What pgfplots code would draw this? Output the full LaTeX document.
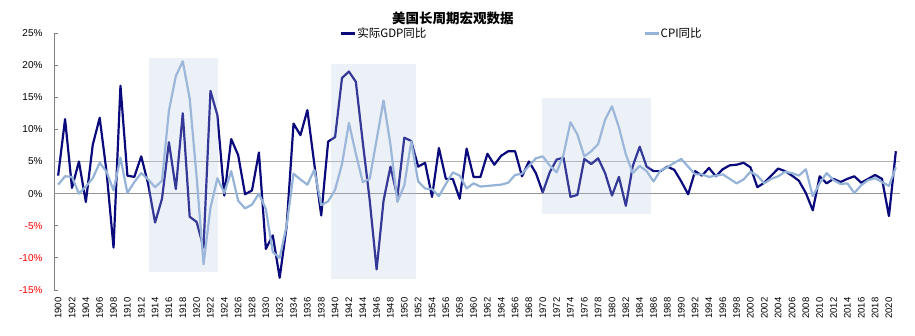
\documentclass[border=0pt]{standalone}
\usepackage{pgfplots}
\usepackage{pgfplotstable}
\pgfplotsset{compat=1.18}
\usepackage{fontspec}
\setmainfont{Liberation Sans}
\newfontfamily\cjk{Noto Sans CJK SC}
\definecolor{gdpc}{RGB}{10,10,125}
\definecolor{cpic}{RGB}{149,179,215}
\definecolor{shadec}{RGB}{180,195,225}
\pgfplotstableread{
year gdp cpi
1900 2.8 1.4
1901 11.6 2.7
1902 0.9 2.6
1903 5.0 0.0
1904 -1.3 1.1
1905 7.6 2.4
1906 11.8 4.8
1907 3.3 3.4
1908 -8.4 0.5
1909 16.8 5.6
1910 2.8 0.1
1911 2.6 1.8
1912 5.8 3.2
1913 1.5 2.2
1914 -4.5 1.0
1915 -0.8 2.0
1916 8.0 12.9
1917 0.7 18.3
1918 12.5 20.6
1919 -3.6 14.8
1920 -4.4 2.6
1921 -8.4 -11.0
1922 16.0 -2.2
1923 12.2 2.4
1924 -0.3 0.1
1925 8.5 3.5
1926 6.0 -1.1
1927 -0.1 -2.3
1928 0.5 -1.7
1929 6.4 0.0
1930 -8.6 -2.4
1931 -6.5 -9.1
1932 -13.1 -10.0
1933 -5.1 -5.0
1934 10.9 3.1
1935 9.1 2.2
1936 13.0 1.4
1937 4.6 3.7
1938 -3.4 -1.8
1939 8.1 -1.2
1940 8.8 0.6
1941 18.0 4.6
1942 19.0 11.0
1943 17.4 6.2
1944 8.0 1.8
1945 -1.0 2.3
1946 -11.8 8.4
1947 -1.1 14.5
1948 4.2 7.6
1949 -0.5 -1.3
1950 8.7 1.3
1951 8.2 8.1
1952 4.2 1.9
1953 4.8 0.8
1954 -0.5 0.7
1955 7.1 -0.4
1956 2.3 1.5
1957 2.3 3.3
1958 -0.8 2.8
1959 7.0 0.8
1960 2.6 1.6
1961 2.6 1.1
1962 6.2 1.2
1963 4.5 1.3
1964 5.9 1.4
1965 6.6 1.7
1966 6.6 2.9
1967 2.7 3.1
1968 5.0 4.3
1969 3.2 5.5
1970 0.2 5.8
1971 3.3 4.4
1972 5.3 3.3
1973 5.6 6.1
1974 -0.5 11.1
1975 -0.2 9.2
1976 5.4 5.8
1977 4.6 6.6
1978 5.5 7.7
1979 3.2 11.5
1980 -0.3 13.6
1981 2.6 10.3
1982 -1.9 6.1
1983 4.3 3.2
1984 7.3 4.3
1985 4.2 3.5
1986 3.5 1.9
1987 3.5 3.6
1988 4.2 4.1
1989 3.7 4.8
1990 1.9 5.4
1991 -0.1 4.2
1992 3.5 3.0
1993 2.8 3.0
1994 4.0 2.6
1995 2.7 2.8
1996 3.8 3.0
1997 4.4 2.3
1998 4.5 1.6
1999 4.8 2.2
2000 4.1 3.4
2001 1.0 2.8
2002 1.7 1.6
2003 2.8 2.3
2004 3.9 2.7
2005 3.5 3.4
2006 2.8 3.2
2007 2.0 2.8
2008 0.1 3.8
2009 -2.6 -0.4
2010 2.7 1.6
2011 1.6 3.2
2012 2.3 2.1
2013 1.8 1.5
2014 2.3 1.6
2015 2.7 0.1
2016 1.7 1.3
2017 2.3 2.1
2018 2.9 2.4
2019 2.3 1.8
2020 -3.5 1.2
2021 6.6 4.1
}\datatable
\begin{document}
\begin{tikzpicture}
\useasboundingbox (-54pt,-45pt) rectangle (861pt,290pt);
\begin{axis}[
  at={(0pt,0pt)}, anchor=south west,
  scale only axis, width=846pt, height=257pt,
  xmin=1899.4, xmax=2021.6, ymin=-15, ymax=25,
  axis y line*=left, axis x line*=bottom,
  x axis line style={draw=none},
  y axis line style={draw=gray, line width=0.8pt},
  xtick={1900,1902,...,2020},
  xtick style={draw=none},
  xticklabel style={yshift=-4pt, rotate=90, anchor=east, font=\fontsize{9.5}{10}\selectfont},
  /pgf/number format/1000 sep={},
  /pgf/number format/assume math mode=true,
  ytick={-15,-10,-5,0,5,10,15,20,25},
  yticklabels={\textcolor{red}{-15\%},\textcolor{red}{-10\%},\textcolor{red}{-5\%},0\%,5\%,10\%,15\%,20\%,25\%},
  yticklabel style={font=\fontsize{10}{11}\selectfont, xshift=-8pt},
  ytick style={draw=gray, line width=0.8pt},
  tick align=inside, major tick length=4pt,
  clip=false,
  title={\cjk\bfseries 美国长周期宏观数据},
  title style={at={(0.4716,1)}, anchor=center, yshift=9pt, font=\fontsize{13.5}{15}\selectfont},
  legend columns=2,
  legend style={draw=none, fill=none, at={(0.338,0.998)}, anchor=west, inner sep=0pt,
    font=\cjk\fontsize{11.5}{13}\selectfont,
    nodes={inner sep=1pt},
    /tikz/every even column/.append style={column sep=216pt}},
  legend image code/.code={\draw[#1] (0pt,0pt) -- (14pt,0pt);},
]
\addplot[gray!60, line width=1pt, forget plot] coordinates {(1899.4,5) (2021.6,5)};
\addplot[gray!85, line width=1.3pt, forget plot] coordinates {(1899.4,0) (2021.6,0)};
\addplot[gdpc, line width=2.2pt, line join=round] table[x=year, y=gdp] {\datatable};
\addlegendentry{实际GDP同比}
\addplot[cpic, line width=2.2pt, line join=round] table[x=year, y=cpi] {\datatable};
\addlegendentry{CPI同比}
\fill[shadec, opacity=0.25] (axis cs:1913.1,-12.2) rectangle (axis cs:1923.1,21.1);
\fill[shadec, opacity=0.25] (axis cs:1939.4,-13.3) rectangle (axis cs:1951.65,20.1);
\fill[shadec, opacity=0.25] (axis cs:1969.9,-3.17) rectangle (axis cs:1985.6,14.87);
\end{axis}
\end{tikzpicture}
\end{document}
